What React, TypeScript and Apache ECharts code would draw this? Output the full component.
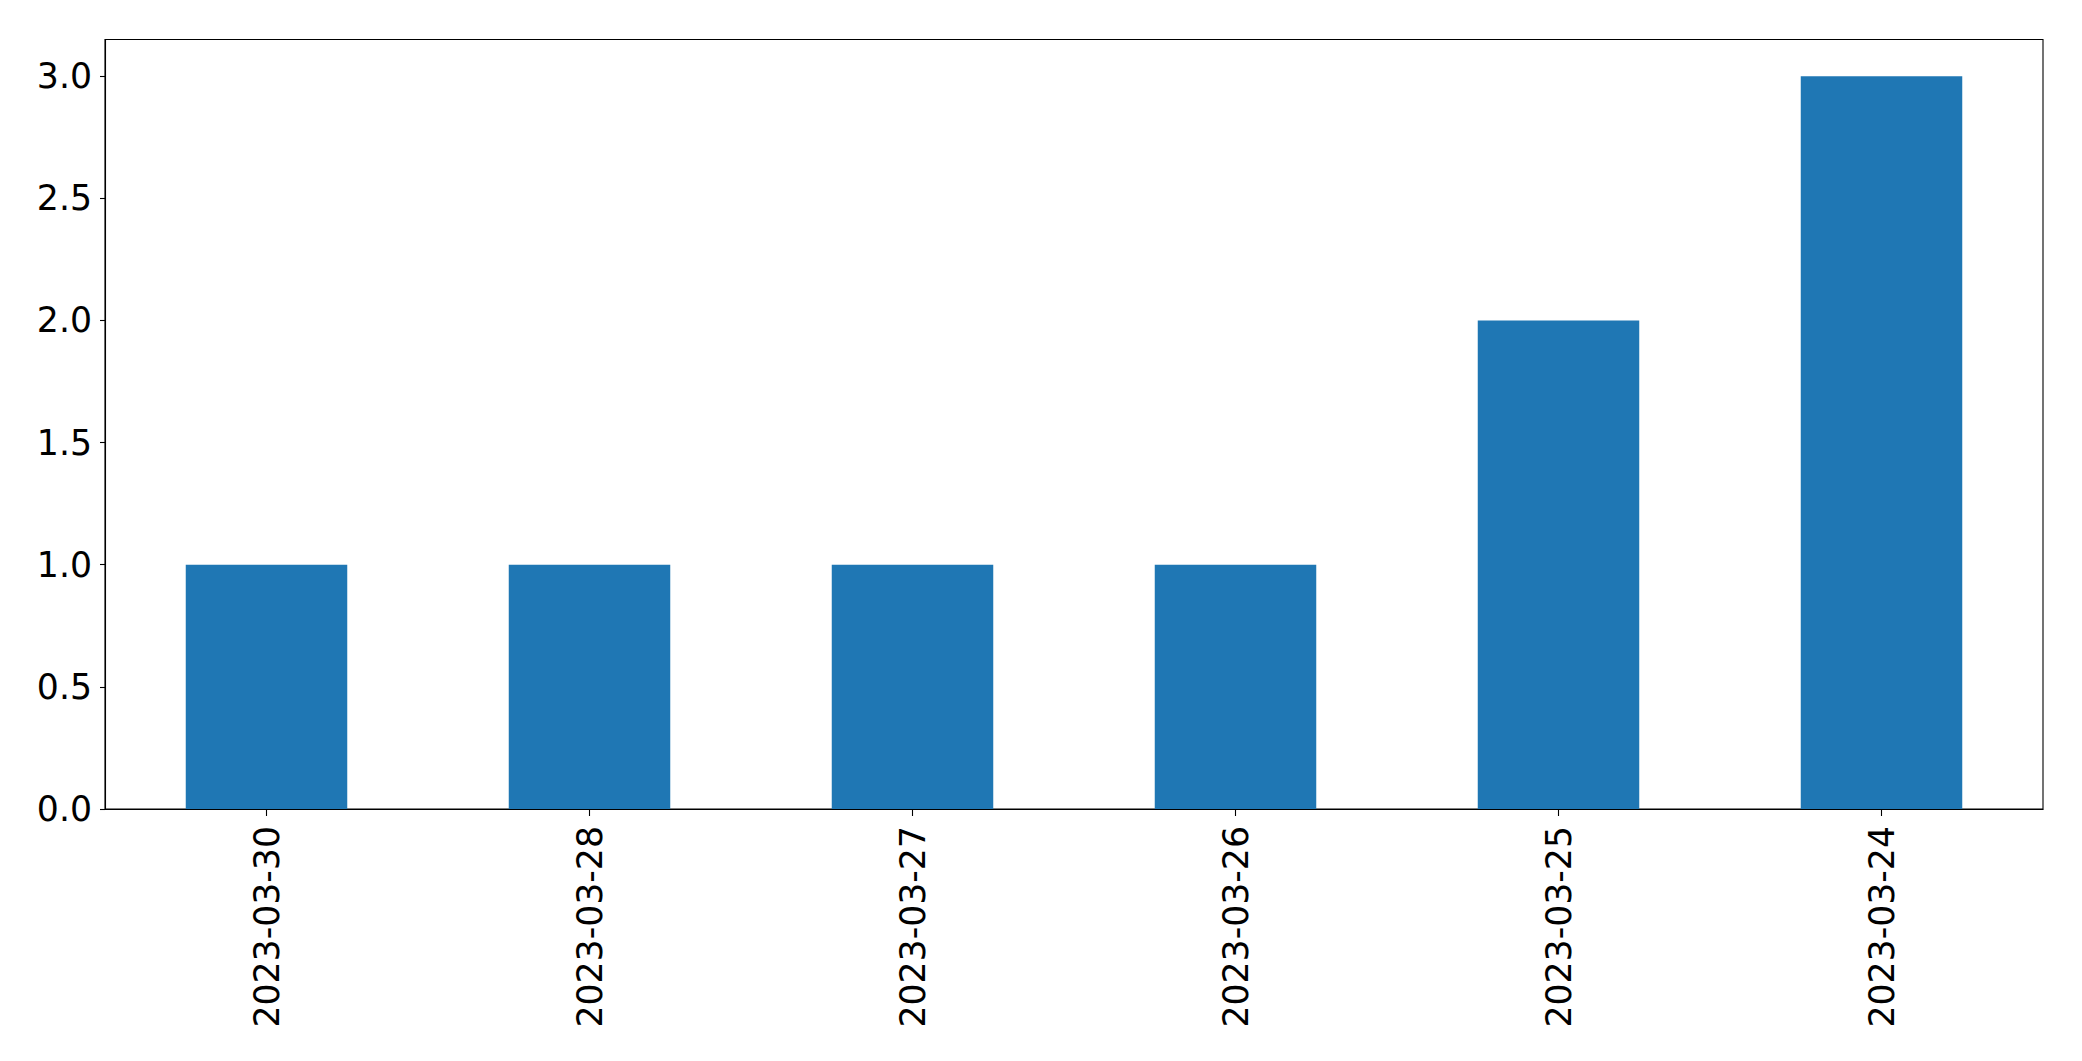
import React, { useEffect, useRef } from "react";
import * as echarts from "echarts";

const categories = ["2023-03-30", "2023-03-28", "2023-03-27", "2023-03-26", "2023-03-25", "2023-03-24"];
const counts = [1, 1, 1, 1, 2, 3];
const yTicks = [0, 0.5, 1.0, 1.5, 2.0, 2.5, 3.0];

export default function App() {
  const ref = useRef<HTMLDivElement>(null);
  useEffect(() => {
    if (!ref.current) return;
    const chart = echarts.init(ref.current, null, { renderer: "svg" });
    const font = "DejaVu Sans";
    chart.setOption({
      animation: false,
      backgroundColor: "#ffffff",
      grid: {
        left: 105,
        right: 39,
        top: 39.5,
        bottom: 252,
        show: true,
        borderColor: "#000",
        borderWidth: 1.1,
        backgroundColor: "transparent",
      },
      xAxis: {
        type: "category",
        data: categories,
        boundaryGap: true,
        axisLine: { show: true, lineStyle: { color: "#000", width: 1.1 } },
        axisTick: { show: true, alignWithLabel: true, length: 7, lineStyle: { color: "#000", width: 1.1 } },
        axisLabel: { rotate: 90, margin: 17, color: "#000", fontSize: 34.7, fontFamily: font, interval: 0 },
        splitLine: { show: false },
      },
      yAxis: {
        type: "value",
        min: 0,
        max: 3.15,
        interval: 0.5,
        axisLine: { show: true, lineStyle: { color: "#000", width: 1.1 } },
        axisTick: { show: true, length: 5, customValues: yTicks, lineStyle: { color: "#000", width: 1.1 } },
        axisLabel: {
          margin: 13,
          color: "#000",
          fontSize: 34.7,
          fontFamily: font,
          customValues: yTicks,
          formatter: (v: number) => v.toFixed(1),
        },
        splitLine: { show: false },
      },
      series: [
        {
          type: "bar",
          data: counts,
          barWidth: "50%",
          itemStyle: { color: "#1f77b4" },
        },
      ],
    });
    return () => chart.dispose();
  }, []);
  return (
    <div
      ref={ref}
      style={{ position: "fixed", left: 0, top: 0, width: 2082, height: 1061, background: "#fff" }}
    />
  );
}
